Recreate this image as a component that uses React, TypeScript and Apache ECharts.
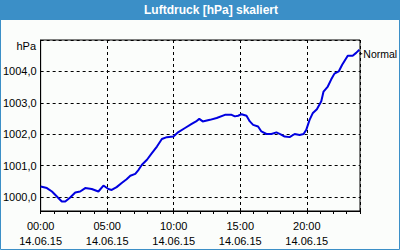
import React, { useEffect, useRef } from "react";
import * as echarts from "echarts";

const title = "Luftdruck [hPa] skaliert";
const unitLabel = "hPa";
const seriesName = "Normal";
const dateLabel = "14.06.15";

// hours since 00:00 on 14.06.15
const hours = [
  0.0, 0.47, 0.85, 1.22, 1.59, 1.85, 2.22, 2.6, 2.97, 3.35, 3.84, 4.34, 4.72, 5.09,
  5.34, 5.71, 6.09, 6.46, 6.74, 7.11, 7.36, 7.61, 7.99, 8.36, 8.74, 9.11, 9.48,
  9.98, 10.35, 10.85, 11.35, 11.68, 11.92, 12.18, 12.72, 13.23, 13.85, 14.35, 14.6,
  14.84, 15.1, 15.47, 15.72, 15.97, 16.34, 16.59, 16.97, 17.34, 17.72, 18.04, 18.34,
  18.71, 19.09, 19.46, 19.76, 19.96, 20.21, 20.46, 20.76, 21.09, 21.26, 21.58, 21.83,
  22.08, 22.4, 22.66, 23.08, 23.45, 23.71, 23.95,
];
const pressure = [
  1000.34, 1000.29, 1000.18, 1000.02, 999.86, 999.86, 999.99, 1000.15, 1000.18,
  1000.29, 1000.26, 1000.18, 1000.37, 1000.26, 1000.23, 1000.32, 1000.45, 1000.57,
  1000.68, 1000.74, 1000.87, 1001.03, 1001.19, 1001.4, 1001.61, 1001.85, 1001.91,
  1001.93, 1002.07, 1002.2, 1002.33, 1002.41, 1002.49, 1002.41, 1002.46, 1002.52,
  1002.62, 1002.62, 1002.57, 1002.59, 1002.64, 1002.59, 1002.41, 1002.3, 1002.25,
  1002.09, 1002.01, 1002.01, 1002.06, 1002.0, 1001.93, 1001.91, 1002.01, 1001.98,
  1002.01, 1002.14, 1002.46, 1002.68, 1002.8, 1003.05, 1003.36, 1003.52, 1003.74,
  1003.93, 1004.0, 1004.21, 1004.5, 1004.5, 1004.59, 1004.69,
];

const FONT = "'Liberation Sans', Arial, sans-serif";
const BLUE = "#3b8fc7";

export default function App() {
  const ref = useRef<HTMLDivElement>(null);
  useEffect(() => {
    if (!ref.current) return;
    const chart = echarts.init(ref.current, undefined, { renderer: "svg" });
    const data = hours.map((h, i) => [h, pressure[i]]);
    chart.setOption({
      animation: false,
      backgroundColor: "#fbfdfb",
      textStyle: { fontFamily: FONT },
      graphic: [
        {
          type: "rect",
          shape: { x: 0.5, y: 0.5, width: 399, height: 249 },
          style: { fill: "none", stroke: BLUE, lineWidth: 1 },
          z: 10,
        },
        {
          type: "rect",
          shape: { x: 0, y: 0, width: 400, height: 20 },
          style: { fill: BLUE },
        },
        {
          type: "text",
          x: 211,
          y: 10,
          style: {
            text: title,
            fill: "#ffffff",
            font: `bold 12px ${FONT}`,
            align: "center",
            verticalAlign: "middle",
          },
        },
        {
          type: "text",
          x: 36,
          y: 46,
          style: {
            text: unitLabel,
            fill: "#000",
            font: `11px ${FONT}`,
            align: "right",
            verticalAlign: "middle",
          },
        },
      ],
      grid: {
        left: 40,
        right: 40,
        top: 40,
        bottom: 39,
        show: true,
        backgroundColor: "transparent",
        borderColor: "#000",
        borderWidth: 1,
      },
      xAxis: [
        {
          type: "value",
          min: 0,
          max: 24,
          interval: 5,
          axisLine: { show: true, lineStyle: { color: "#000", width: 1 } },
          axisTick: { show: false },
          splitLine: { show: true, lineStyle: { color: "#000", type: [3, 3], width: 1 } },
          axisLabel: {
            color: "#000",
            fontSize: 11,
            fontFamily: FONT,
            lineHeight: 15,
            margin: 7,
            showMaxLabel: false,
            formatter: (v: number) => `${String(Math.round(v)).padStart(2, "0")}:00\n${dateLabel}`,
          },
        },
        {
          type: "value",
          position: "bottom",
          min: 0,
          max: 24,
          interval: 1,
          axisLine: { show: false },
          axisTick: { show: true, length: 3, lineStyle: { color: "#000" } },
          splitLine: { show: false },
          axisLabel: { show: false },
        },
      ],
      yAxis: {
        type: "value",
        min: 999.56,
        max: 1005.0,
        splitNumber: 5,
        axisLine: { show: true, lineStyle: { color: "#000", width: 1 } },
        axisTick: { show: false },
        splitLine: { show: true, lineStyle: { color: "#000", type: [3, 3], width: 1 } },
        axisLabel: {
          color: "#000",
          fontSize: 11,
          fontFamily: FONT,
          margin: 4,
          showMinLabel: false,
          showMaxLabel: false,
          formatter: (v: number) => v.toFixed(1).replace(".", ","),
        },
      },
      series: [
        {
          name: seriesName,
          type: "line",
          xAxisIndex: 0,
          data,
          showSymbol: false,
          lineStyle: { color: "#0000e0", width: 2 },
          itemStyle: { color: "#0000e0" },
          endLabel: {
            show: true,
            formatter: `{d|}{n|${seriesName}}`,
            distance: 0,
            offset: [0, 4],
            rich: {
              d: { width: 3, height: 1, backgroundColor: "#000" },
              n: { color: "#000", fontSize: 10.5, fontFamily: FONT, padding: [0, 0, 0, 1] },
            },
          },
        },
      ],
    });
    return () => chart.dispose();
  }, []);
  return (
    <div
      ref={ref}
      style={{ position: "absolute", left: 0, top: 0, width: 400, height: 250 }}
    />
  );
}
